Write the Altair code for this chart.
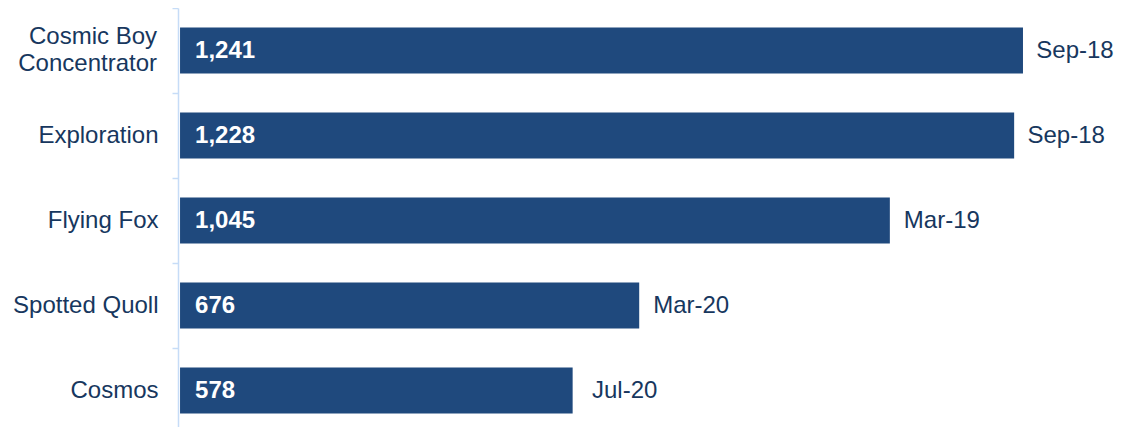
import altair as alt
import pandas as pd

categories = ["Cosmic Boy\nConcentrator", "Exploration", "Flying Fox", "Spotted Quoll", "Cosmos"]
values = [1241, 1228, 1045, 676, 578]
value_labels = ["1,241", "1,228", "1,045", "676", "578"]
dates = ["Sep-18", "Sep-18", "Mar-19", "Mar-20", "Jul-20"]

df = pd.DataFrame({"cat": categories, "val": values, "vlab": value_labels, "date": dates})

FONT = "Liberation Sans"
NAVY = "#17375e"
BAR = "#1f497d"
AXIS = "#c6dcf7"
FS = 24

y_enc = alt.Y(
    "cat:N",
    sort=categories,
    title=None,
    scale=alt.Scale(paddingInner=0, paddingOuter=0),
    axis=alt.Axis(
        domainColor=AXIS, domainWidth=1.5, tickColor=AXIS, tickWidth=1.5, tickSize=6,
        tickBand="extent", labelFont=FONT, labelFontSize=FS, labelColor=NAVY,
        labelPadding=14, labelLineHeight=27, labelLimit=300,
        labelExpr="split(datum.label, '\\n')[0] == datum.label ? datum.label : ''",
    ),
)
xscale = alt.Scale(domain=[-3, 1375], nice=False, zero=False)
x_enc = alt.X("val:Q", title=None, axis=None, scale=xscale)

base = alt.Chart(df).encode(y=y_enc)

bars = base.mark_bar(size=46, color=BAR).encode(x=x_enc)
vtext = base.transform_calculate(base0="0").mark_text(
    align="left", baseline="middle", dx=15, font=FONT, fontSize=FS,
    fontWeight="bold", color="white").encode(
    x=alt.X("base0:Q", title=None, axis=None, scale=xscale), text="vlab:N")
dtext = base.mark_text(align="center", baseline="middle", dx=52, font=FONT, fontSize=FS,
                       color=NAVY).encode(x=x_enc, text="date:N")
# two-line category label, centred on its band
mtext = base.transform_filter("indexof(datum.cat, '\\n') >= 0").mark_text(
    align="right", baseline="middle", lineBreak="\n", lineHeight=27, dy=-13.5,
    font=FONT, fontSize=FS, color=NAVY).encode(x=alt.value(-21), text="cat:N")

chart = alt.layer(bars, vtext, dtext, mtext).properties(
    width=936, height=425,
    autosize=alt.AutoSizeParams(type="none"),
    padding={"left": 170, "top": 0, "right": 0, "bottom": 0},
).configure_view(stroke=None)

chart.save("out.html", embed_options={"renderer": "svg", "actions": False})
